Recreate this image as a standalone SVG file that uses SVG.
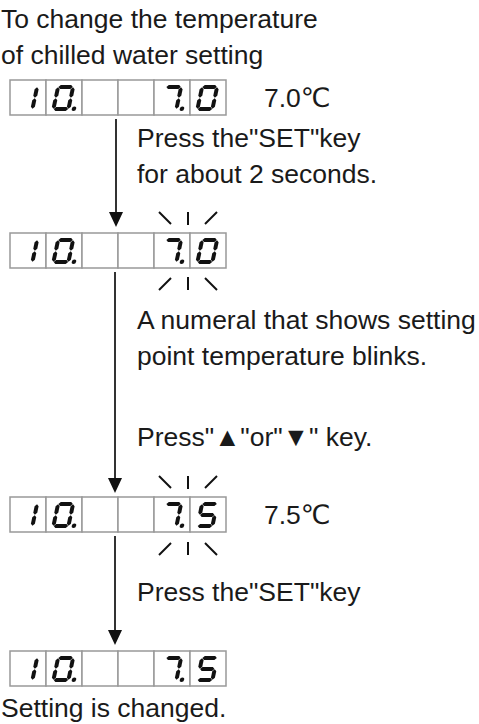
<svg xmlns="http://www.w3.org/2000/svg" xmlns:xlink="http://www.w3.org/1999/xlink" width="479" height="724" viewBox="0 0 479 724">
<style>
text{font-family:"Liberation Sans","DejaVu Sans","Noto Sans CJK JP",sans-serif;font-size:26.5px;fill:#1a1a1a}
.cell{fill:#fff;stroke:#999;stroke-width:1.5}
.seg{fill:#111}
.conn{stroke:#333;stroke-width:2;fill:none}
.head{fill:#111}
.blink{stroke:#111;stroke-width:2;fill:none}
</style>
<defs>
<path id="h" class="seg" d="M0,0 l2,-2 h10.4 l2,2 l-2,2 h-10.4 z"/>
<path id="v" class="seg" d="M0,0 l2,2 v6.4 l-2,2 l-2,-2 v-6.4 z"/>
<circle id="dp" class="seg" cx="22.5" cy="-2.2" r="2.2"/>
<g id="dig0"><use href="#h" x="2.3" y="-24"/><use href="#h" x="2.3" y="-2"/><use href="#v" x="2" y="-23.7"/><use href="#v" x="2" y="-12.7"/><use href="#v" x="17" y="-23.7"/><use href="#v" x="17" y="-12.7"/></g>
<g id="dig1"><use href="#v" x="17" y="-23.7"/><use href="#v" x="17" y="-12.7"/></g>
<g id="dig7"><use href="#h" x="2.3" y="-24"/><use href="#v" x="17" y="-23.7"/><use href="#v" x="17" y="-12.7"/></g>
<g id="dig5"><use href="#h" x="2.3" y="-24"/><use href="#h" x="2.3" y="-13"/><use href="#h" x="2.3" y="-2"/><use href="#v" x="2" y="-23.7"/><use href="#v" x="17" y="-12.7"/></g>
<g id="cells"><rect class="cell" x="10" y="0" width="36" height="35"/><rect class="cell" x="46" y="0" width="36" height="35"/><rect class="cell" x="82" y="0" width="36" height="35"/><rect class="cell" x="118" y="0" width="36" height="35"/><rect class="cell" x="154" y="0" width="36" height="35"/><rect class="cell" x="190" y="0" width="36" height="35"/></g>
<g id="digits"><g transform="translate(15,31) skewX(-12)"><use href="#dig1"/></g><g transform="translate(51,31) skewX(-12)"><use href="#dig0"/><use href="#dp"/></g><g transform="translate(159,31) skewX(-12)"><use href="#dig7"/><use href="#dp"/></g></g>
<g id="blinkUp"><line class="blink" x1="159" y1="0" x2="171" y2="12"/><line class="blink" x1="188" y1="0" x2="188" y2="13"/><line class="blink" x1="217" y1="0" x2="205" y2="12"/></g>
<g id="blinkDown"><line class="blink" x1="159" y1="13" x2="171" y2="1"/><line class="blink" x1="188" y1="0" x2="188" y2="13"/><line class="blink" x1="217" y1="13" x2="205" y2="1"/></g>
</defs>
<rect width="479" height="724" fill="#fff"/>
<g id="title"><text x="1" y="28">To change the temperature</text><text x="1" y="64">of chilled water setting</text></g>
<g id="display1" transform="translate(0,80)"><use href="#cells"/><use href="#digits"/><g transform="translate(195,31) skewX(-12)"><use href="#dig0"/></g><text x="264" y="27">7.0℃</text></g>
<g id="step1"><text x="137" y="147">Press the"SET"key</text><text x="137" y="183">for about 2 seconds.</text></g>
<g id="display2"><use href="#blinkUp" y="212"/><g transform="translate(0,233)"><use href="#cells"/><use href="#digits"/><g transform="translate(195,31) skewX(-12)"><use href="#dig0"/></g></g><use href="#blinkDown" y="277"/></g>
<g id="step2"><text x="137" y="329">A numeral that shows setting</text><text x="137" y="365">point temperature blinks.</text><text x="137" y="446">Press"▲"or"▼" key.</text></g>
<g id="display3"><use href="#blinkUp" y="476"/><g transform="translate(0,497)"><use href="#cells"/><use href="#digits"/><g transform="translate(195,31) skewX(-12)"><use href="#dig5"/></g><text x="264" y="27">7.5℃</text></g><use href="#blinkDown" y="542"/></g>
<g id="step3"><text x="137" y="601">Press the"SET"key</text></g>
<g id="display4" transform="translate(0,651)"><use href="#cells"/><use href="#digits"/><g transform="translate(195,31) skewX(-12)"><use href="#dig5"/></g></g>
<g id="result"><text x="1" y="717">Setting is changed.</text></g>
<g id="connectors">
<line class="conn" x1="116" y1="119" x2="116" y2="214"/><polygon class="head" points="109,212 123,212 116,227"/>
<line class="conn" x1="115" y1="272" x2="115" y2="480"/><polygon class="head" points="108,478 122,478 115,493"/>
<line class="conn" x1="115" y1="536" x2="115" y2="632"/><polygon class="head" points="108,630 122,630 115,645"/>
</g>
</svg>
